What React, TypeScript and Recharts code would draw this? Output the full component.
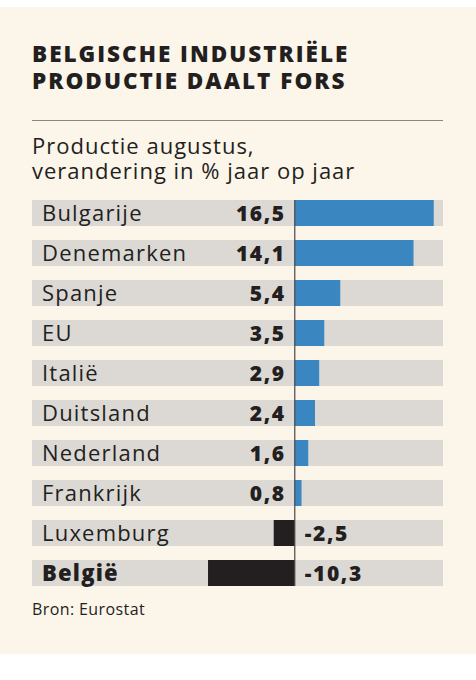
import React from 'react';
import { BarChart, Bar, XAxis, YAxis, Cell, LabelList, ReferenceLine } from 'recharts';

const countries = ['Bulgarije', 'Denemarken', 'Spanje', 'EU', 'Italië', 'Duitsland', 'Nederland', 'Frankrijk', 'Luxemburg', 'België'];
const changes = [16.5, 14.1, 5.4, 3.5, 2.9, 2.4, 1.6, 0.8, -2.5, -10.3];
const highlighted = ['België'];
const titleLines = ['BELGISCHE INDUSTRIËLE', 'PRODUCTIE DAALT FORS'];
const subtitleLines = ['Productie augustus,', 'verandering in % jaar op jaar'];
const source = 'Bron: Eurostat';

const data = countries.map((name, i) => ({ name, value: changes[i] }));

const FONT = '"Open Sans", "DejaVu Sans", sans-serif';
const TEXT = '#231f20';
const BLUE = '#3a86c1';
const BAND = '#dcd9d5';
const CREAM = '#fcf5ea';
const NAME_X = 42;

const fmt = (v: number) => v.toFixed(1).replace('.', ',');

const NameLabel = (props: any) => {
  const { y, height, value } = props;
  const bold = highlighted.includes(value);
  return (
    <text
      x={NAME_X}
      y={y + height / 2}
      dy={8}
      fontFamily={FONT}
      fontSize={22}
      fontWeight={bold ? 800 : 400}
      letterSpacing={1.2}
      fill={TEXT}
    >
      {value}
    </text>
  );
};

const ValueLabel = (props: any) => {
  const { x, y, width, height, value } = props;
  const left = Math.min(x, x + width);
  const right = Math.max(x, x + width);
  const pos = value >= 0;
  const zero = pos ? left : right;
  return (
    <text
      x={pos ? zero - 9 : zero + 10}
      y={y + height / 2}
      dy={7.5}
      textAnchor={pos ? 'end' : 'start'}
      fontFamily={FONT}
      fontSize={21}
      fontWeight={800}
      letterSpacing={1.6}
      fill={TEXT}
    >
      {fmt(value)}
    </text>
  );
};

const lineStyle = (top: number, size: number, weight: number, spacing: number): React.CSSProperties => ({
  position: 'absolute',
  left: 32,
  top,
  fontFamily: FONT,
  fontWeight: weight,
  fontSize: size,
  lineHeight: `${size + 2}px`,
  color: TEXT,
  letterSpacing: spacing,
  whiteSpace: 'nowrap',
});

export default function App() {
  return (
    <div style={{ position: 'absolute', left: 0, top: 0, width: 476, height: 680, background: '#ffffff', overflow: 'hidden' }}>
      <div style={{ position: 'absolute', left: 0, top: 7, width: 476, height: 647, background: CREAM }} />
      <div style={lineStyle(42, 22.5, 800, 2)}>{titleLines[0]}</div>
      <div style={lineStyle(69, 22.5, 800, 2)}>{titleLines[1]}</div>
      <div style={{ position: 'absolute', left: 32, top: 119.5, width: 411, height: 1.2, background: '#8a8580' }} />
      <div style={lineStyle(133, 22, 400, 1)}>{subtitleLines[0]}</div>
      <div style={lineStyle(158, 22, 400, 1)}>{subtitleLines[1]}</div>
      <div style={{ position: 'absolute', left: 0, top: 0 }}>
        <BarChart
          width={476}
          height={680}
          data={data}
          layout="vertical"
          margin={{ top: 200, right: 33, bottom: 94, left: 32 }}
        >
          <XAxis type="number" dataKey="value" domain={[-31.2, 17.6]} hide allowDataOverflow />
          <YAxis type="category" dataKey="name" hide padding={{ top: -7, bottom: -7 }} />
          <Bar dataKey="value" barSize={26} background={{ fill: BAND }} isAnimationActive={false}>
            {data.map((d) => (
              <Cell key={d.name} fill={d.value >= 0 ? BLUE : TEXT} />
            ))}
            <LabelList dataKey="name" content={<NameLabel />} />
            <LabelList dataKey="value" content={<ValueLabel />} />
          </Bar>
          <ReferenceLine x={0} stroke="#4a4646" strokeWidth={1.2} ifOverflow="extendDomain" />
        </BarChart>
      </div>
      <div style={lineStyle(600, 16, 400, 0.4)}>{source}</div>
    </div>
  );
}
